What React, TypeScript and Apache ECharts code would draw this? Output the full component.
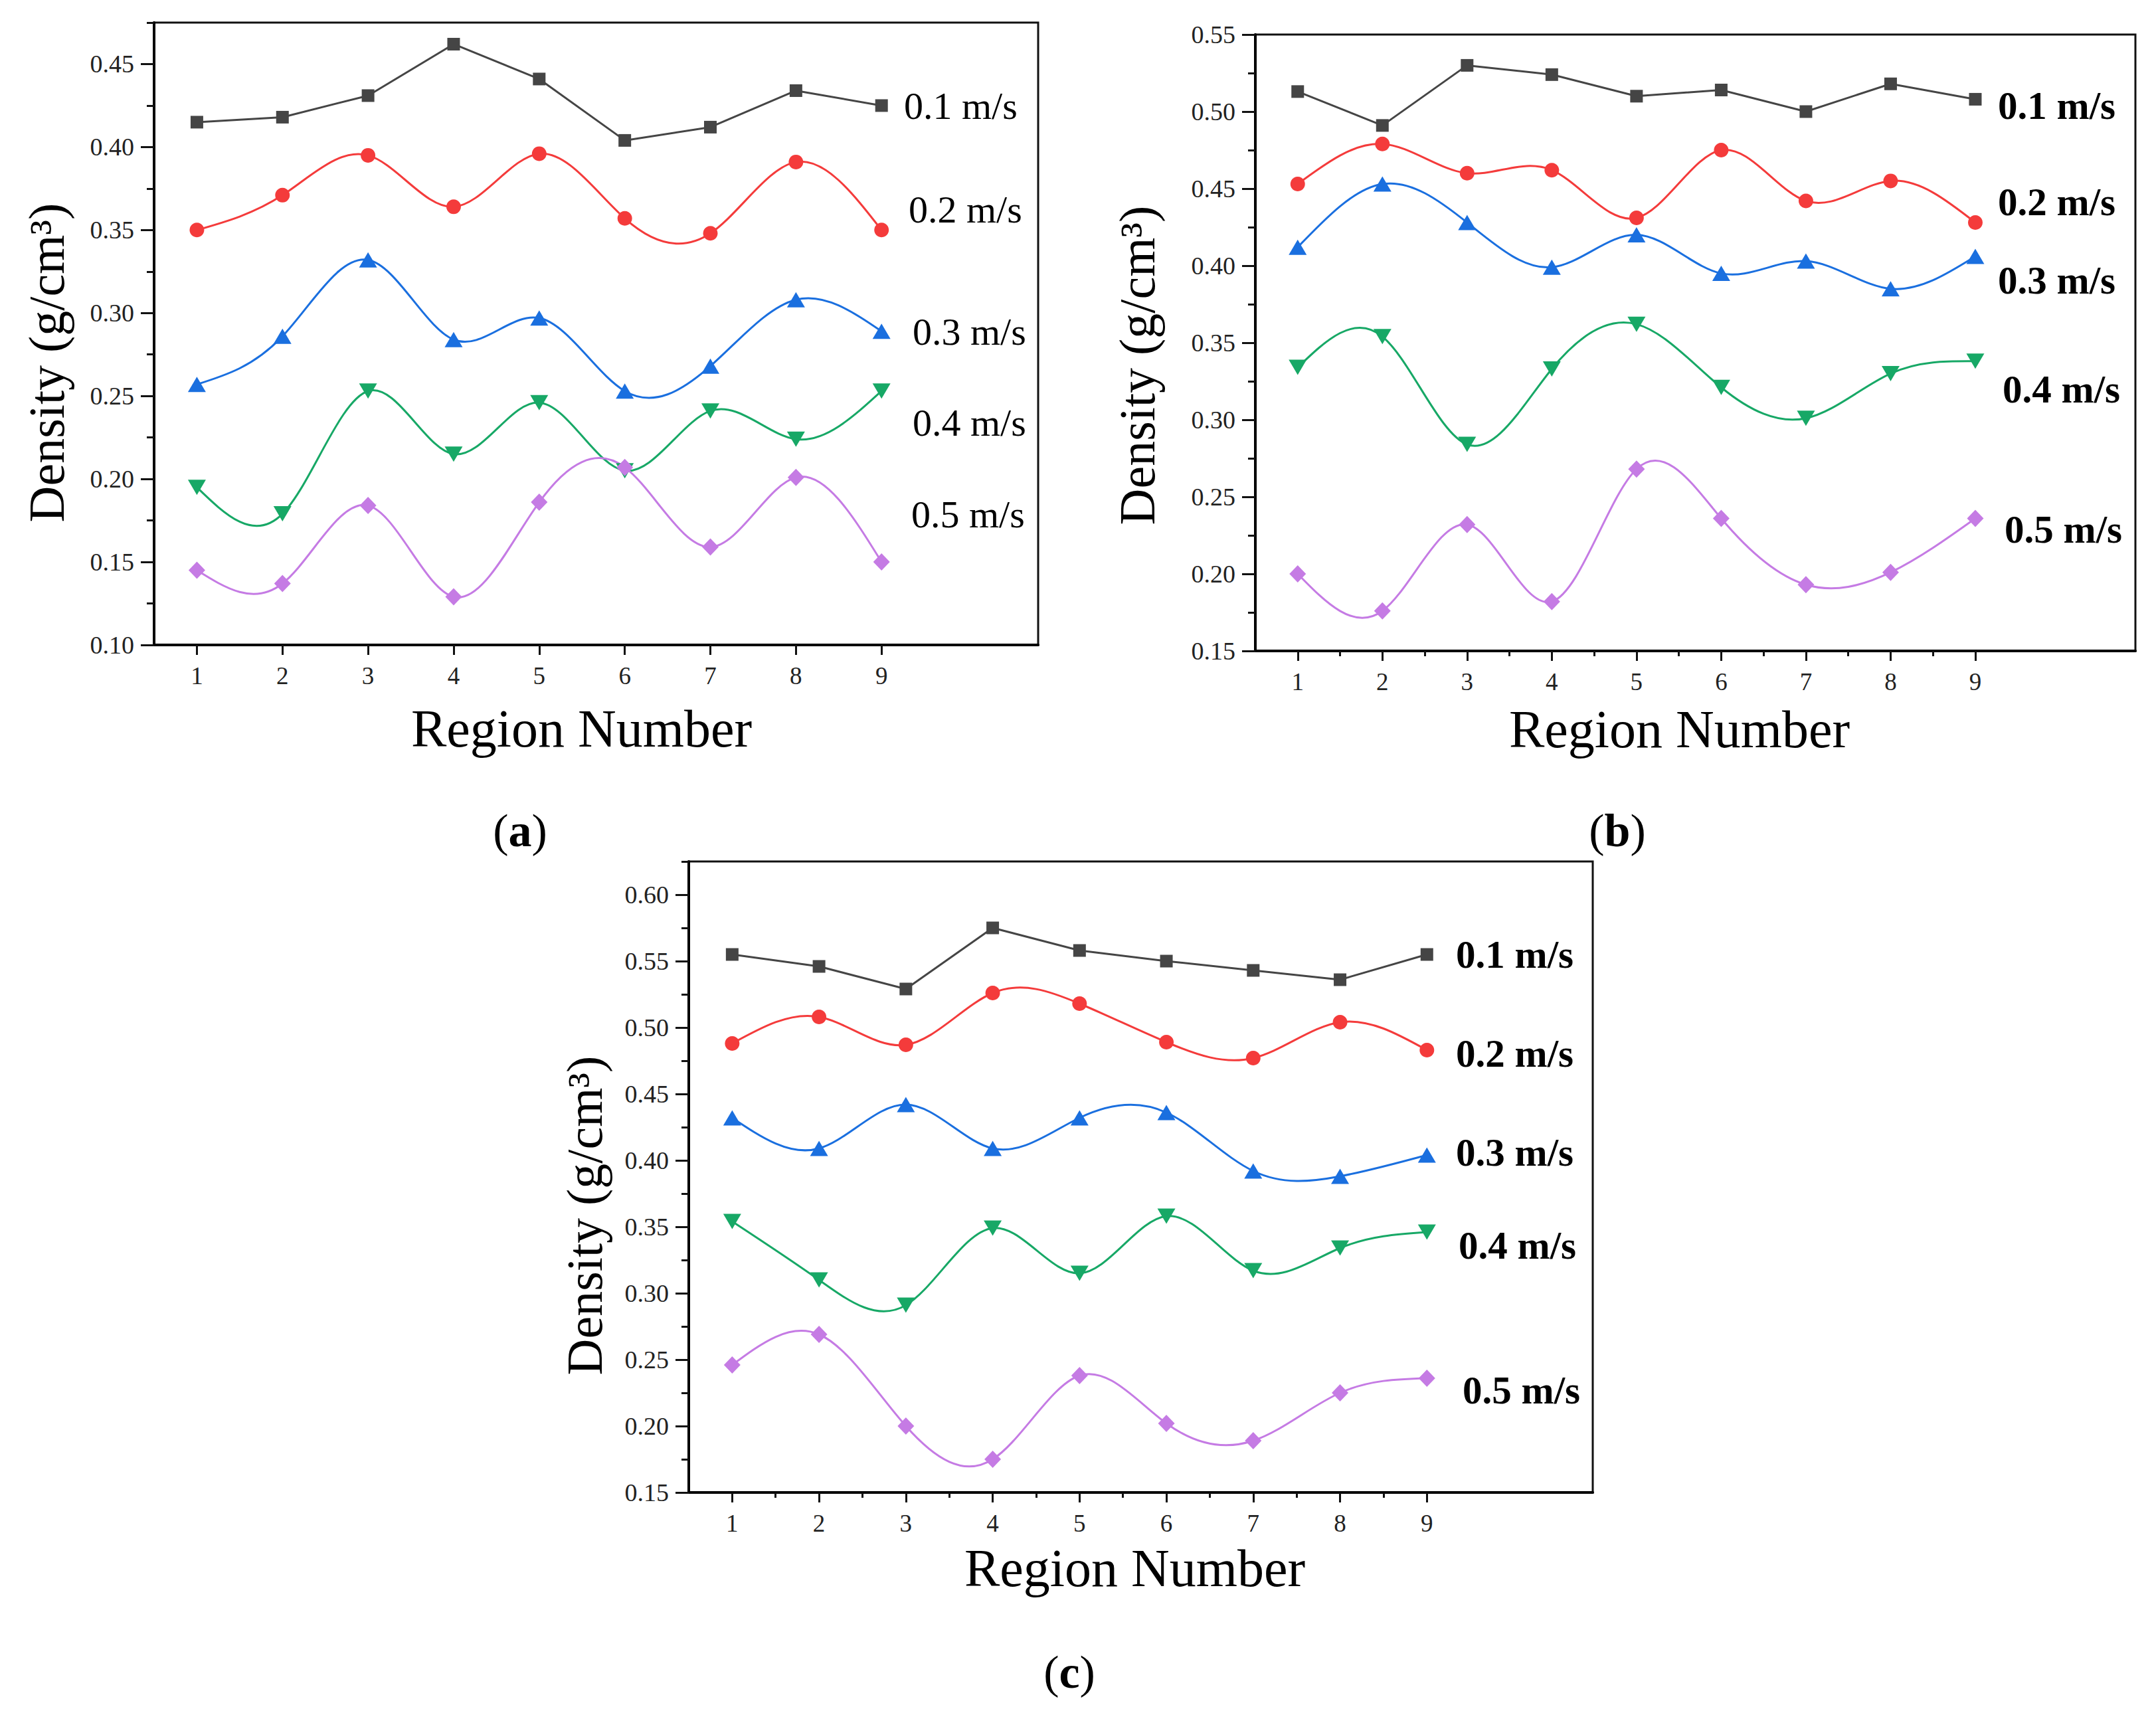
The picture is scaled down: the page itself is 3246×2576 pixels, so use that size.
import React, { useEffect, useRef } from "react";
import * as echarts from "echarts";

const FONT = "'Liberation Serif', 'Times New Roman', Times, serif";

// ---------- data ----------
const regions = [1, 2, 3, 4, 5, 6, 7, 8, 9];
const speedLabels = ["0.1 m/s", "0.2 m/s", "0.3 m/s", "0.4 m/s", "0.5 m/s"];
const captionLetters = ["a", "b", "c"];
const yAxisTitle = "Density (g/cm³)";
const xAxisTitle = "Region Number";

const xTickValues = [1, 2, 3, 4, 5, 6, 7, 8, 9];
const xMinorTickValues = [1.5, 2.5, 3.5, 4.5, 5.5, 6.5, 7.5, 8.5];

const yTicksA = [0.1, 0.15, 0.2, 0.25, 0.3, 0.35, 0.4, 0.45];
const yMinorTicksA = [0.125, 0.175, 0.225, 0.275, 0.325, 0.375, 0.425, 0.475];
const yTicksB = [0.15, 0.2, 0.25, 0.3, 0.35, 0.4, 0.45, 0.5, 0.55];
const yMinorTicksB = [0.175, 0.225, 0.275, 0.325, 0.375, 0.425, 0.475, 0.525];
const yTicksC = [0.15, 0.2, 0.25, 0.3, 0.35, 0.4, 0.45, 0.5, 0.55, 0.6];
const yMinorTicksC = [0.175, 0.225, 0.275, 0.325, 0.375, 0.425, 0.475, 0.525, 0.575, 0.625];

// panel (a)
const a01 = [0.415, 0.418, 0.431, 0.462, 0.441, 0.404, 0.412, 0.434, 0.425];
const a02 = [0.35, 0.371, 0.395, 0.364, 0.396, 0.357, 0.348, 0.391, 0.35];
const a03 = [0.257, 0.286, 0.332, 0.284, 0.297, 0.253, 0.268, 0.308, 0.289];
const a04 = [0.195, 0.179, 0.253, 0.215, 0.246, 0.205, 0.241, 0.224, 0.253];
const a05 = [0.145, 0.137, 0.184, 0.129, 0.186, 0.207, 0.159, 0.201, 0.15];

// panel (b)
const b01 = [0.513, 0.491, 0.53, 0.524, 0.51, 0.514, 0.5, 0.518, 0.508];
const b02 = [0.453, 0.479, 0.46, 0.462, 0.431, 0.475, 0.442, 0.455, 0.428];
const b03 = [0.412, 0.453, 0.428, 0.399, 0.42, 0.395, 0.403, 0.385, 0.406];
const b04 = [0.334, 0.354, 0.284, 0.333, 0.362, 0.321, 0.301, 0.33, 0.338];
const b05 = [0.2, 0.176, 0.232, 0.182, 0.268, 0.236, 0.193, 0.201, 0.236];

// panel (c)
const c01 = [0.555, 0.546, 0.529, 0.575, 0.558, 0.55, 0.543, 0.536, 0.555];
const c02 = [0.488, 0.508, 0.487, 0.526, 0.518, 0.489, 0.477, 0.504, 0.483];
const c03 = [0.432, 0.409, 0.442, 0.409, 0.432, 0.436, 0.392, 0.388, 0.404];
const c04 = [0.354, 0.31, 0.291, 0.349, 0.315, 0.358, 0.317, 0.334, 0.346];
const c05 = [0.246, 0.269, 0.2, 0.175, 0.238, 0.202, 0.189, 0.225, 0.236];

// ---------- styles ----------
const COLORS = ["#454545", "#f43b3b", "#1a6fdf", "#17a866", "#c57be4"];
const SYMBOLS = ["rect", "circle", "triangle", "triangle", "diamond"];
const SYMBOL_SIZES: any[] = [19, 22, [27, 23], [27, 23], [25, 26]];
const SYMBOL_ROTATE = [0, 0, 0, 180, 0];

// ---------- layout ----------
const panels = [
  {
    grid: { left: 232, top: 34, width: 1331, height: 937 },
    xMax: 10.83,
    yMin: 0.1,
    yMax: 0.475,
    yTicks: yTicksA,
    yMinor: yMinorTicksA,
    series: [a01, a02, a03, a04, a05],
    xMinor: false,
    nameGap: 86,
    namePadRight: 44,
    yName: [70, 546],
    labels: [
      [1361, 159],
      [1368, 315],
      [1374, 499],
      [1374, 636],
      [1372, 774],
    ],
    bold: false,
    caption: [783, 1250],
  },
  {
    grid: { left: 1890, top: 52, width: 1325, height: 928 },
    xMax: 10.89,
    yMin: 0.15,
    yMax: 0.55,
    yTicks: yTicksB,
    yMinor: yMinorTicksB,
    series: [b01, b02, b03, b04, b05],
    xMinor: true,
    nameGap: 78,
    namePadRight: 48,
    yName: [1712, 550],
    labels: [
      [3008, 159],
      [3008, 304],
      [3008, 422],
      [3015, 586],
      [3018, 797],
    ],
    bold: true,
    caption: [2435, 1250],
  },
  {
    grid: { left: 1037, top: 1297, width: 1361, height: 950 },
    xMax: 10.91,
    yMin: 0.15,
    yMax: 0.625,
    yTicks: yTicksC,
    yMinor: yMinorTicksC,
    series: [c01, c02, c03, c04, c05],
    xMinor: true,
    nameGap: 74,
    namePadRight: 18,
    yName: [880, 1830],
    labels: [
      [2192, 1437],
      [2192, 1586],
      [2192, 1735],
      [2196, 1875],
      [2202, 2093],
    ],
    bold: true,
    caption: [1610, 2517],
  },
];

// Natural cubic spline through the data points, expressed as Bezier segments
// (in data units; the linear axes map them exactly to pixels).
function splineSegments(xs: number[], ys: number[]) {
  const n = xs.length;
  const h: number[] = [];
  for (let i = 0; i < n - 1; i++) h.push(xs[i + 1] - xs[i]);
  const M = new Array(n).fill(0);
  if (n > 2) {
    const m = n - 2;
    const a: number[] = [], b: number[] = [], c: number[] = [], d: number[] = [];
    for (let k = 0; k < m; k++) {
      const i = k + 1;
      a.push(h[i - 1]);
      b.push(2 * (h[i - 1] + h[i]));
      c.push(h[i]);
      d.push(6 * ((ys[i + 1] - ys[i]) / h[i] - (ys[i] - ys[i - 1]) / h[i - 1]));
    }
    for (let k = 1; k < m; k++) {
      const w = a[k] / b[k - 1];
      b[k] -= w * c[k - 1];
      d[k] -= w * d[k - 1];
    }
    const sol = new Array(m).fill(0);
    sol[m - 1] = d[m - 1] / b[m - 1];
    for (let k = m - 2; k >= 0; k--) sol[k] = (d[k] - c[k] * sol[k + 1]) / b[k];
    for (let k = 0; k < m; k++) M[k + 1] = sol[k];
  }
  const segs: number[][] = [];
  for (let i = 0; i < n - 1; i++) {
    const hi = h[i];
    const s = (ys[i + 1] - ys[i]) / hi;
    const d0 = s - (hi * (2 * M[i] + M[i + 1])) / 6;
    const d1 = s + (hi * (M[i] + 2 * M[i + 1])) / 6;
    segs.push([
      xs[i], ys[i],
      xs[i] + hi / 3, ys[i] + (d0 * hi) / 3,
      xs[i + 1] - hi / 3, ys[i + 1] - (d1 * hi) / 3,
      xs[i + 1], ys[i + 1],
    ]);
  }
  return segs;
}

function buildOption() {
  const grids: any[] = [];
  const xAxes: any[] = [];
  const yAxes: any[] = [];
  const series: any[] = [];
  const graphics: any[] = [];

  panels.forEach((p, i) => {
    grids.push({
      ...p.grid,
      show: true,
      borderColor: "#111",
      borderWidth: 3,
      backgroundColor: "transparent",
      containLabel: false,
    });

    const xMainIndex = xAxes.length;
    xAxes.push({
      type: "value",
      gridIndex: i,
      position: "bottom",
      min: 0.5,
      max: p.xMax,
      axisLine: { show: true, onZero: false, lineStyle: { color: "#000", width: 4 } },
      axisTick: {
        show: true,
        inside: false,
        length: 15,
        customValues: xTickValues,
        lineStyle: { color: "#111", width: 3 },
      },
      axisLabel: {
        show: true,
        customValues: xTickValues,
        margin: 28,
        fontFamily: FONT,
        fontSize: 37,
        color: "#222",
      },
      splitLine: { show: false },
      name: xAxisTitle,
      nameLocation: "middle",
      nameGap: p.nameGap,
      nameTextStyle: {
        fontFamily: FONT,
        fontSize: 80,
        color: "#000",
        padding: [0, p.namePadRight, 0, 0],
      },
    });
    if (p.xMinor) {
      xAxes.push({
        type: "value",
        gridIndex: i,
        position: "bottom",
        offset: 0,
        min: 0.5,
        max: p.xMax,
        axisLine: { show: false },
        axisTick: {
          show: true,
          inside: false,
          length: 8,
          customValues: xMinorTickValues,
          lineStyle: { color: "#111", width: 3 },
        },
        axisLabel: { show: false },
        splitLine: { show: false },
      });
    }

    const yMainIndex = yAxes.length;
    yAxes.push({
      type: "value",
      gridIndex: i,
      position: "left",
      min: p.yMin,
      max: p.yMax,
      axisLine: { show: true, onZero: false, lineStyle: { color: "#000", width: 4 } },
      axisTick: {
        show: true,
        inside: false,
        length: 20,
        customValues: p.yTicks,
        lineStyle: { color: "#111", width: 3 },
      },
      axisLabel: {
        show: true,
        customValues: p.yTicks,
        margin: 30,
        fontFamily: FONT,
        fontSize: 38,
        color: "#222",
        formatter: (v: number) => v.toFixed(2),
      },
      splitLine: { show: false },
    });
    yAxes.push({
      type: "value",
      gridIndex: i,
      position: "left",
      offset: 0,
      min: p.yMin,
      max: p.yMax,
      axisLine: { show: false },
      axisTick: {
        show: true,
        inside: false,
        length: 11,
        customValues: p.yMinor,
        lineStyle: { color: "#111", width: 3 },
      },
      axisLabel: { show: false },
      splitLine: { show: false },
    });

    p.series.forEach((vals, j) => {
      const points = regions.map((r, k) => [r, vals[k]]);
      const smooth = j !== 0;
      if (smooth) {
        const segs = splineSegments(regions, vals);
        const color = COLORS[j];
        series.push({
          type: "custom",
          name: speedLabels[j] + " curve",
          coordinateSystem: "cartesian2d",
          xAxisIndex: xMainIndex,
          yAxisIndex: yMainIndex,
          data: points.slice(0, points.length - 1),
          silent: true,
          z: 2,
          renderItem: (params: any, api: any) => {
            const s = segs[params.dataIndex];
            const p0 = api.coord([s[0], s[1]]);
            const c1 = api.coord([s[2], s[3]]);
            const c2 = api.coord([s[4], s[5]]);
            const p1 = api.coord([s[6], s[7]]);
            return {
              type: "bezierCurve",
              shape: {
                x1: p0[0], y1: p0[1],
                cpx1: c1[0], cpy1: c1[1],
                cpx2: c2[0], cpy2: c2[1],
                x2: p1[0], y2: p1[1],
              },
              style: { stroke: color, lineWidth: 3, fill: "none" },
            };
          },
        });
      }
      series.push({
        type: "line",
        name: speedLabels[j],
        xAxisIndex: xMainIndex,
        yAxisIndex: yMainIndex,
        data: points,
        smooth: false,
        symbol: SYMBOLS[j],
        symbolSize: SYMBOL_SIZES[j],
        symbolRotate: SYMBOL_ROTATE[j],
        showAllSymbol: true,
        lineStyle: smooth
          ? { color: COLORS[j], width: 0, opacity: 0 }
          : { color: COLORS[j], width: 3 },
        itemStyle: { color: COLORS[j], borderWidth: 0 },
        silent: true,
        z: 3,
      });
    });

    // y axis title
    graphics.push({
      type: "text",
      x: p.yName[0],
      y: p.yName[1],
      rotation: Math.PI / 2,
      style: {
        text: yAxisTitle,
        fontFamily: FONT,
        fontSize: 76,
        fill: "#000",
        align: "center",
        verticalAlign: "middle",
      },
    });

    // series labels
    p.labels.forEach((pos, j) => {
      graphics.push({
        type: "text",
        x: pos[0],
        y: pos[1],
        style: {
          text: speedLabels[j],
          fontFamily: FONT,
          fontSize: p.bold ? 59 : 58,
          fontWeight: p.bold ? "bold" : "normal",
          fill: "#000",
          align: "left",
          verticalAlign: "middle",
        },
      });
    });

    // caption
    graphics.push({
      type: "text",
      x: p.caption[0],
      y: p.caption[1],
      style: {
        text: "{p|(}{b|" + captionLetters[i] + "}{p|)}",
        align: "center",
        verticalAlign: "middle",
        rich: {
          p: { fontFamily: FONT, fontSize: 70, fontWeight: "normal", fill: "#000" },
          b: { fontFamily: FONT, fontSize: 70, fontWeight: "bold", fill: "#000" },
        },
      },
    });
  });

  return {
    animation: false,
    backgroundColor: "#ffffff",
    grid: grids,
    xAxis: xAxes,
    yAxis: yAxes,
    series,
    graphic: graphics,
  };
}

export default function App() {
  const ref = useRef<HTMLDivElement>(null);
  useEffect(() => {
    document.body.style.margin = "0";
    if (!ref.current) return;
    const chart = echarts.init(ref.current, null, { renderer: "svg" });
    chart.setOption(buildOption() as any);
    return () => chart.dispose();
  }, []);
  return <div ref={ref} style={{ width: 3246, height: 2576, background: "#fff" }} />;
}
